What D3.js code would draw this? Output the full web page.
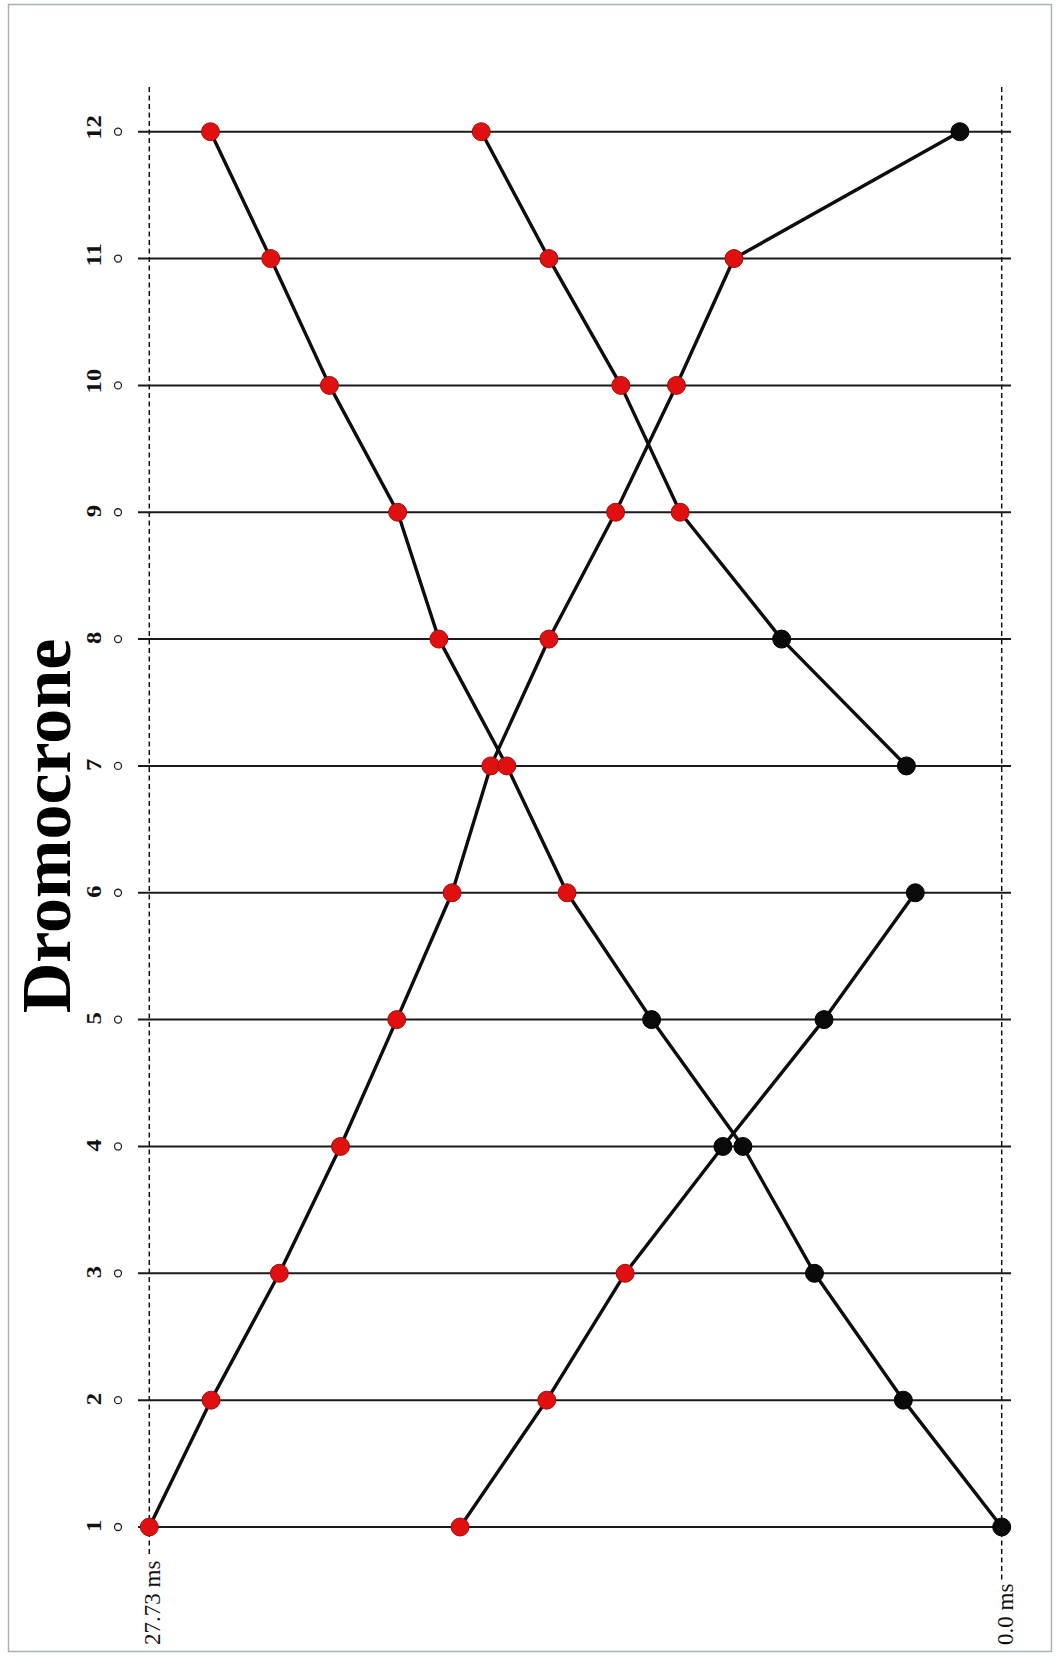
<!DOCTYPE html>
<html>
<head>
<meta charset="utf-8">
<title>Dromocrone</title>
<script src="https://cdn.jsdelivr.net/npm/d3@7"></script>
<style>
  html, body { margin: 0; padding: 0; background: #ffffff; }
  svg { display: block; }
</style>
</head>
<body>
<script>
// Geophone stations, bottom (1) to top (12)
const stations = [1, 2, 3, 4, 5, 6, 7, 8, 9, 10, 11, 12];

// Time axis limits (ms)
const timeMax = 27.73;
const timeMin = 0.0;
const timeLabels = ["27.73 ms", "0.0 ms"];

// Travel-time branches: station numbers, picked times (ms), and pick type
// ("r" = red pick, "k" = black pick)
const branch1Stations = [1, 2, 3, 4, 5, 6, 7, 8, 9, 10, 11, 12];
const branch1Times    = [27.73, 25.72, 23.50, 21.51, 19.68, 17.88, 16.62, 14.73, 12.56, 10.58, 8.71, 1.36];
const branch1Types    = ["r", "r", "r", "r", "r", "r", "r", "r", "r", "r", "r", "k"];

const branch2Stations = [1, 2, 3, 4, 5, 6, 7, 8, 9, 10, 11, 12];
const branch2Times    = [0.0, 3.20, 6.09, 8.42, 11.39, 14.14, 16.10, 18.31, 19.65, 21.87, 23.78, 25.74];
const branch2Types    = ["k", "k", "k", "k", "k", "r", "r", "r", "r", "r", "r", "r"];

const branch3Stations = [1, 2, 3, 4, 5, 6];
const branch3Times    = [17.62, 14.80, 12.25, 9.07, 5.78, 2.81];
const branch3Types    = ["r", "r", "r", "k", "k", "k"];

const branch4Stations = [7, 8, 9, 10, 11, 12];
const branch4Times    = [3.10, 7.16, 10.46, 12.39, 14.73, 16.93];
const branch4Types    = ["k", "k", "r", "r", "r", "r"];

const titleText = "Dromocrone";

const W = 1061, H = 1659;
const svg = d3.select("body").append("svg")
  .attr("width", W).attr("height", H)
  .attr("viewBox", `0 0 ${W} ${H}`);

// Outer frame
svg.append("rect")
  .attr("x", 8.5).attr("y", 4.5)
  .attr("width", 1043).attr("height", 1647)
  .attr("fill", "#ffffff")
  .attr("stroke", "#a7b0ba")
  .attr("stroke-width", 1.5);

// Scales: time runs right-to-left, stations bottom-to-top
const x = d3.scaleLinear().domain([timeMax, timeMin]).range([149.3, 1001.7]);
const y = d3.scaleLinear().domain([1, 12]).range([1527, 131.7]);

const serif = "'Liberation Serif', 'Times New Roman', serif";

// Title
svg.append("text")
  .attr("transform", `translate(70, 826) rotate(-90)`)
  .attr("text-anchor", "middle")
  .attr("font-family", serif)
  .attr("font-weight", "bold")
  .attr("font-size", 70)
  .attr("fill", "#000")
  .text(titleText);

// Time limit labels (bottom, rotated)
const limitG = svg.append("g");
const limitLabels = [
  { v: timeMax, t: timeLabels[0] },
  { v: timeMin, t: timeLabels[1] }
];
limitLabels.forEach(d => {
  const tx = x(d.v) + 11;
  const txt = limitG.append("text")
    .attr("transform", `translate(${tx}, 1645) rotate(-90)`)
    .attr("text-anchor", "start")
    .attr("font-family", serif)
    .attr("font-size", 23)
    .attr("fill", "#111")
    .text(d.t);
  const len = txt.node().getComputedTextLength();
  // Dashed limit line ending just above its label
  svg.insert("line", "g")
    .attr("x1", x(d.v)).attr("x2", x(d.v))
    .attr("y1", 87).attr("y2", 1645 - len - 4)
    .attr("stroke", "#111")
    .attr("stroke-width", 1.5)
    .attr("stroke-dasharray", "5,3.5");
});

// Station lines, labels and station markers
const rowG = svg.append("g");
rowG.selectAll("line.station")
  .data(stations).join("line")
  .attr("class", "station")
  .attr("x1", 138).attr("x2", 1011)
  .attr("y1", d => y(d)).attr("y2", d => y(d))
  .attr("stroke", "#1a1a1a")
  .attr("stroke-width", 2);

rowG.selectAll("text.station")
  .data(stations).join("text")
  .attr("class", "station")
  .attr("transform", d => `translate(101, ${y(d) + (d >= 10 ? 8 : 5)}) rotate(-90) scale(1.12, 1)`)
  .attr("text-anchor", "start")
  .attr("font-family", serif)
  .attr("font-weight", "bold")
  .attr("font-size", 22)
  .attr("fill", "#111")
  .text(d => d);

rowG.selectAll("circle.station")
  .data(stations).join("circle")
  .attr("class", "station")
  .attr("cx", 118).attr("cy", d => y(d))
  .attr("r", 3.5)
  .attr("fill", "#fff")
  .attr("stroke", "#222")
  .attr("stroke-width", 1.3);

// Branches
const branches = [
  { s: branch1Stations, t: branch1Times, k: branch1Types },
  { s: branch2Stations, t: branch2Times, k: branch2Types },
  { s: branch3Stations, t: branch3Times, k: branch3Types },
  { s: branch4Stations, t: branch4Times, k: branch4Types }
].map(b => b.s.map((st, i) => ({ station: st, time: b.t[i], type: b.k[i] })));

const line = d3.line().x(d => x(d.time)).y(d => y(d.station));

const lineG = svg.append("g");
lineG.selectAll("path")
  .data(branches).join("path")
  .attr("d", line)
  .attr("fill", "none")
  .attr("stroke", "#0d0d0d")
  .attr("stroke-width", 3.4)
  .attr("stroke-linejoin", "round");

const dotG = svg.append("g");
branches.forEach(b => {
  dotG.selectAll(null)
    .data(b).join("circle")
    .attr("cx", d => x(d.time))
    .attr("cy", d => y(d.station))
    .attr("r", 9)
    .attr("fill", d => d.type === "r" ? "#e01010" : "#0a0a0a")
    .attr("stroke", d => d.type === "r" ? "#9a1010" : "#000")
    .attr("stroke-width", 1);
});
</script>
</body>
</html>
